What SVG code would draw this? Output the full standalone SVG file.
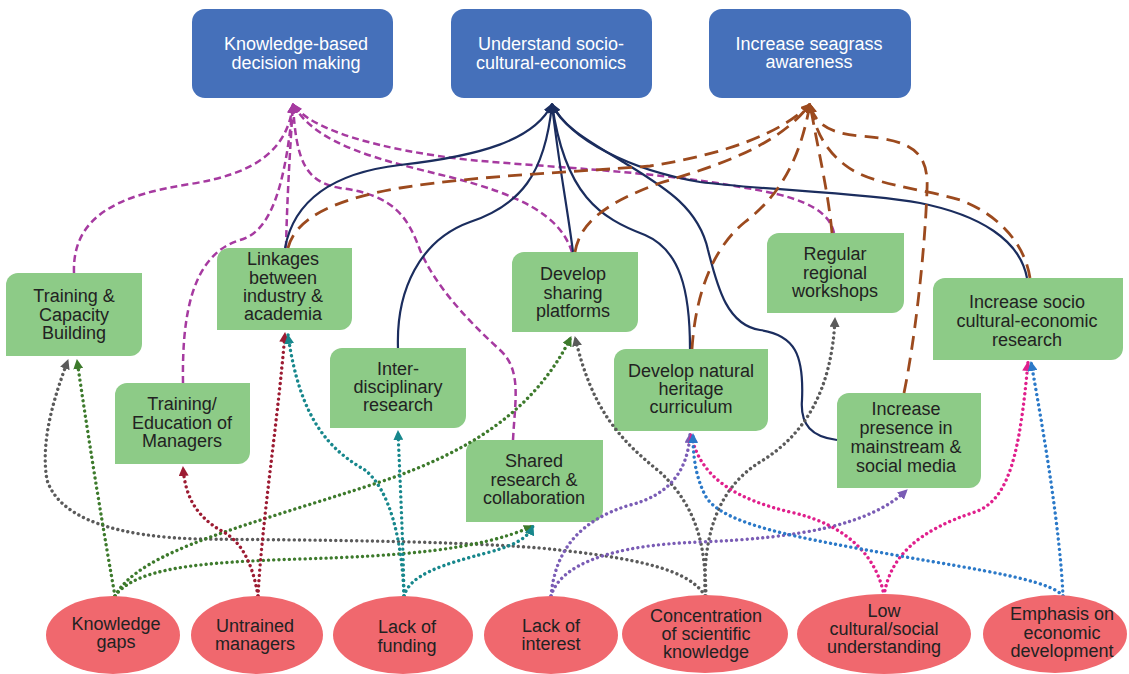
<svg xmlns="http://www.w3.org/2000/svg" width="1129" height="674" viewBox="0 0 1129 674">
<style>
text{font-family:"Liberation Sans",Arial,sans-serif;font-size:18px;text-anchor:middle;fill:#222}
.goal rect{fill:#4570BA}
.goal text{fill:#fff}
.act path{fill:#8DCB87}
.cause ellipse{fill:#F0686E}
.c path{fill:none}
.mg{stroke:#A63AA0;stroke-width:2.5;stroke-dasharray:7 4}
.nv{stroke:#1B2D5E;stroke-width:2.2}
.br{stroke:#9C4A1E;stroke-width:2.8;stroke-dasharray:14 8}
.d{stroke-width:3.4;stroke-linecap:round;stroke-dasharray:0.01 5.2}
.gy{stroke:#5A5A5A}.gr{stroke:#3D7A2C}.rd{stroke:#9C1B32}.tl{stroke:#17878C}
.pu{stroke:#7A5CB5}.pk{stroke:#E01F8C}.bl{stroke:#2B79C8}
</style>
<defs>
<marker id="aMg" markerUnits="userSpaceOnUse" markerWidth="10" markerHeight="10" viewBox="0 0 10 10" refX="9" refY="5" orient="auto"><path d="M0,0L10,5L0,10z" fill="#A63AA0"/></marker>
<marker id="aNv" markerUnits="userSpaceOnUse" markerWidth="10" markerHeight="10" viewBox="0 0 10 10" refX="9" refY="5" orient="auto"><path d="M0,0L10,5L0,10z" fill="#1B2D5E"/></marker>
<marker id="aBr" markerUnits="userSpaceOnUse" markerWidth="10" markerHeight="10" viewBox="0 0 10 10" refX="9" refY="5" orient="auto"><path d="M0,0L10,5L0,10z" fill="#9C4A1E"/></marker>
<marker id="aGy" markerUnits="userSpaceOnUse" markerWidth="10" markerHeight="10" viewBox="0 0 10 10" refX="9" refY="5" orient="auto"><path d="M0,0L10,5L0,10z" fill="#5A5A5A"/></marker>
<marker id="aGr" markerUnits="userSpaceOnUse" markerWidth="10" markerHeight="10" viewBox="0 0 10 10" refX="9" refY="5" orient="auto"><path d="M0,0L10,5L0,10z" fill="#3D7A2C"/></marker>
<marker id="aRd" markerUnits="userSpaceOnUse" markerWidth="10" markerHeight="10" viewBox="0 0 10 10" refX="9" refY="5" orient="auto"><path d="M0,0L10,5L0,10z" fill="#9C1B32"/></marker>
<marker id="aTl" markerUnits="userSpaceOnUse" markerWidth="10" markerHeight="10" viewBox="0 0 10 10" refX="9" refY="5" orient="auto"><path d="M0,0L10,5L0,10z" fill="#17878C"/></marker>
<marker id="aPu" markerUnits="userSpaceOnUse" markerWidth="10" markerHeight="10" viewBox="0 0 10 10" refX="9" refY="5" orient="auto"><path d="M0,0L10,5L0,10z" fill="#7A5CB5"/></marker>
<marker id="aPk" markerUnits="userSpaceOnUse" markerWidth="10" markerHeight="10" viewBox="0 0 10 10" refX="9" refY="5" orient="auto"><path d="M0,0L10,5L0,10z" fill="#E01F8C"/></marker>
<marker id="aBl" markerUnits="userSpaceOnUse" markerWidth="10" markerHeight="10" viewBox="0 0 10 10" refX="9" refY="5" orient="auto"><path d="M0,0L10,5L0,10z" fill="#2B79C8"/></marker>
</defs>
<rect width="1129" height="674" fill="#fff"/>

<g id="goal-knowledge" class="goal"><rect x="192" y="9" width="201" height="89" rx="13"/><text x="296" y="50">Knowledge-based</text><text x="296" y="69">decision making</text></g>
<g id="goal-socio" class="goal"><rect x="451" y="9" width="201" height="89" rx="13"/><text x="551" y="50">Understand socio-</text><text x="551" y="69">cultural-economics</text></g>
<g id="goal-seagrass" class="goal"><rect x="709" y="9" width="202" height="89" rx="13"/><text x="809" y="50">Increase seagrass</text><text x="809" y="68">awareness</text></g>

<g id="act-training" class="act"><path d="M18,273H142V344A12,12 0 0 1 130,356H6V285A12,12 0 0 1 18,273Z"/><text x="74" y="302">Training &amp;</text><text x="74" y="320.5">Capacity</text><text x="74" y="339">Building</text></g>
<g id="act-linkages" class="act"><path d="M229,248H352V318A12,12 0 0 1 340,330H217V260A12,12 0 0 1 229,248Z"/><text x="283" y="265">Linkages</text><text x="283" y="283.5">between</text><text x="283" y="302">industry &amp;</text><text x="283" y="320">academia</text></g>
<g id="act-education" class="act"><path d="M127,383H250V452A12,12 0 0 1 238,464H115V395A12,12 0 0 1 127,383Z"/><text x="182" y="410">Training/</text><text x="182" y="428.5">Education of</text><text x="182" y="447">Managers</text></g>
<g id="act-interdisc" class="act"><path d="M342,348H466V416A12,12 0 0 1 454,428H330V360A12,12 0 0 1 342,348Z"/><text x="398" y="375">Inter-</text><text x="398" y="393">disciplinary</text><text x="398" y="411">research</text></g>
<g id="act-sharing" class="act"><path d="M524,252H638V320A12,12 0 0 1 626,332H512V264A12,12 0 0 1 524,252Z"/><text x="573" y="280">Develop</text><text x="573" y="298.5">sharing</text><text x="573" y="317">platforms</text></g>
<g id="act-heritage" class="act"><path d="M626,349H768V419A12,12 0 0 1 756,431H614V361A12,12 0 0 1 626,349Z"/><text x="691" y="377">Develop natural</text><text x="691" y="395">heritage</text><text x="691" y="413">curriculum</text></g>
<g id="act-workshops" class="act"><path d="M779,233H904V301A12,12 0 0 1 892,313H767V245A12,12 0 0 1 779,233Z"/><text x="835" y="260">Regular</text><text x="835" y="278.5">regional</text><text x="835" y="297">workshops</text></g>
<g id="act-socioresearch" class="act"><path d="M945,278H1123V348A12,12 0 0 1 1111,360H933V290A12,12 0 0 1 945,278Z"/><text x="1027" y="308">Increase socio</text><text x="1027" y="327">cultural-economic</text><text x="1027" y="346">research</text></g>
<g id="act-media" class="act"><path d="M849,393H981V476A12,12 0 0 1 969,488H837V405A12,12 0 0 1 849,393Z"/><text x="906" y="415">Increase</text><text x="906" y="434">presence in</text><text x="906" y="453">mainstream &amp;</text><text x="906" y="472">social media</text></g>
<g id="act-shared" class="act"><path d="M478,440H603V510A12,12 0 0 1 591,522H466V452A12,12 0 0 1 478,440Z"/><text x="534" y="467">Shared</text><text x="534" y="485.5">research &amp;</text><text x="534" y="504">collaboration</text></g>

<g id="connectors" class="c">
<path class="mg" marker-end="url(#aMg)" d="M74,273C72,215 120,195 190,184C255,174 288,150 293,104"/>
<path class="mg" marker-end="url(#aMg)" d="M183,383C182,320 190,255 240,240C270,232 285,190 293,104"/>
<path class="mg" marker-end="url(#aMg)" d="M286,248C287,200 290,150 293,104"/>
<path class="mg" marker-end="url(#aMg)" d="M513,440C515,400 522,370 500,350C465,318 435,285 420,250C408,218 395,195 340,188C305,182 296,160 293,104"/>
<path class="mg" marker-end="url(#aMg)" d="M572,252C560,215 520,195 450,177C380,160 315,145 293,104"/>
<path class="mg" marker-end="url(#aMg)" d="M834,233C828,205 790,195 740,187C660,172 560,168 470,160C380,150 310,130 293,104"/>

<path class="nv" marker-end="url(#aNv)" d="M285,248C295,195 340,172 400,165C480,156 535,140 552,104"/>
<path class="nv" marker-end="url(#aNv)" d="M398,348C396,290 420,240 470,222C520,205 545,175 552,104"/>
<path class="nv" marker-end="url(#aNv)" d="M573,252C567,205 558,160 552,104"/>
<path class="nv" marker-end="url(#aNv)" d="M690,349C690,290 680,250 645,235C600,218 565,195 552,104"/>
<path class="nv" marker-end="url(#aNv)" d="M837,440C812,437 800,425 802,400C804,355 795,335 760,330C728,325 718,290 708,250C698,205 660,185 620,160C590,142 560,125 552,104"/>
<path class="nv" marker-end="url(#aNv)" d="M1027,278C1020,240 980,215 920,203C860,192 760,190 700,182C630,170 570,140 552,104"/>

<path class="br" marker-end="url(#aBr)" d="M288,248C295,220 330,200 400,188C480,175 580,172 650,166C720,155 780,135 810,104"/>
<path class="br" marker-end="url(#aBr)" d="M575,252C580,225 600,205 660,183C720,165 780,145 810,104"/>
<path class="br" marker-end="url(#aBr)" d="M692,349C695,300 710,250 745,222C780,195 800,160 810,104"/>
<path class="br" marker-end="url(#aBr)" d="M832,233C828,190 818,150 810,104"/>
<path class="br" marker-end="url(#aBr)" d="M904,393C915,340 925,250 927,190C929,150 910,140 860,136C830,133 815,125 810,104"/>
<path class="br" marker-end="url(#aBr)" d="M1030,278C1025,245 1000,215 960,200C920,188 870,185 845,165C825,150 815,130 810,104"/>

<path class="d gy" marker-end="url(#aGy)" d="M705,596C690,570 640,558 540,548C440,540 280,540 200,539C120,537 60,520 47,480C40,440 55,395 68,360"/>
<path class="d gy" marker-end="url(#aGy)" d="M706,596C705,550 700,510 660,472C620,440 592,410 575,337"/>
<path class="d gy" marker-end="url(#aGy)" d="M705,596C703,540 715,490 760,462C805,435 832,390 835,318"/>
<path class="d gr" marker-end="url(#aGr)" d="M115,596C105,540 90,450 77,360"/>
<path class="d gr" marker-end="url(#aGr)" d="M115,596C140,550 250,525 380,482C470,452 535,410 571,337"/>
<path class="d gr" marker-end="url(#aGr)" d="M115,596C135,568 200,562 300,559C400,556 480,550 533,526"/>
<path class="d rd" marker-end="url(#aRd)" d="M258,596C252,560 240,540 220,530C195,515 185,495 183,467"/>
<path class="d rd" marker-end="url(#aRd)" d="M258,596C262,520 278,420 285,333"/>
<path class="d tl" marker-end="url(#aTl)" d="M404,596C402,540 390,490 365,470C330,450 300,420 288,335"/>
<path class="d tl" marker-end="url(#aTl)" d="M404,596C403,540 400,480 398,431"/>
<path class="d tl" marker-end="url(#aTl)" d="M404,596C410,575 440,565 490,552C515,545 528,538 533,526"/>
<path class="d pu" marker-end="url(#aPu)" d="M551,596C555,550 580,520 630,505C670,495 688,470 690,434"/>
<path class="d pu" marker-end="url(#aPu)" d="M551,596C560,565 610,545 700,542C800,538 870,525 907,490"/>
<path class="d pk" marker-end="url(#aPk)" d="M884,596C878,560 850,525 790,512C740,500 700,480 691,434"/>
<path class="d pk" marker-end="url(#aPk)" d="M884,596C890,555 920,530 975,512C1010,500 1020,450 1028,362"/>
<path class="d bl" marker-end="url(#aBl)" d="M1063,596C1050,580 980,570 900,556C800,538 720,525 705,495C695,475 693,455 693,434"/>
<path class="d bl" marker-end="url(#aBl)" d="M1063,596C1060,530 1045,440 1031,362"/>
</g>

<g id="cause-gaps" class="cause"><ellipse cx="113" cy="635" rx="67" ry="39"/><text x="116" y="630">Knowledge</text><text x="116" y="648">gaps</text></g>
<g id="cause-untrained" class="cause"><ellipse cx="257" cy="635" rx="66" ry="39"/><text x="255" y="632">Untrained</text><text x="255" y="650">managers</text></g>
<g id="cause-funding" class="cause"><ellipse cx="403" cy="635" rx="70" ry="39"/><text x="407" y="633">Lack of</text><text x="407" y="652">funding</text></g>
<g id="cause-interest" class="cause"><ellipse cx="551" cy="635" rx="67" ry="39"/><text x="551" y="632">Lack of</text><text x="551" y="650">interest</text></g>
<g id="cause-concentration" class="cause"><ellipse cx="705" cy="634" rx="83" ry="39"/><text x="706" y="622">Concentration</text><text x="706" y="640">of scientific</text><text x="706" y="658">knowledge</text></g>
<g id="cause-low" class="cause"><ellipse cx="884" cy="634" rx="87" ry="40"/><text x="884" y="617">Low</text><text x="884" y="635">cultural/social</text><text x="884" y="653">understanding</text></g>
<g id="cause-emphasis" class="cause"><ellipse cx="1055" cy="634" rx="72" ry="39"/><text x="1062" y="620">Emphasis on</text><text x="1062" y="639">economic</text><text x="1062" y="657">development</text></g>
</svg>
